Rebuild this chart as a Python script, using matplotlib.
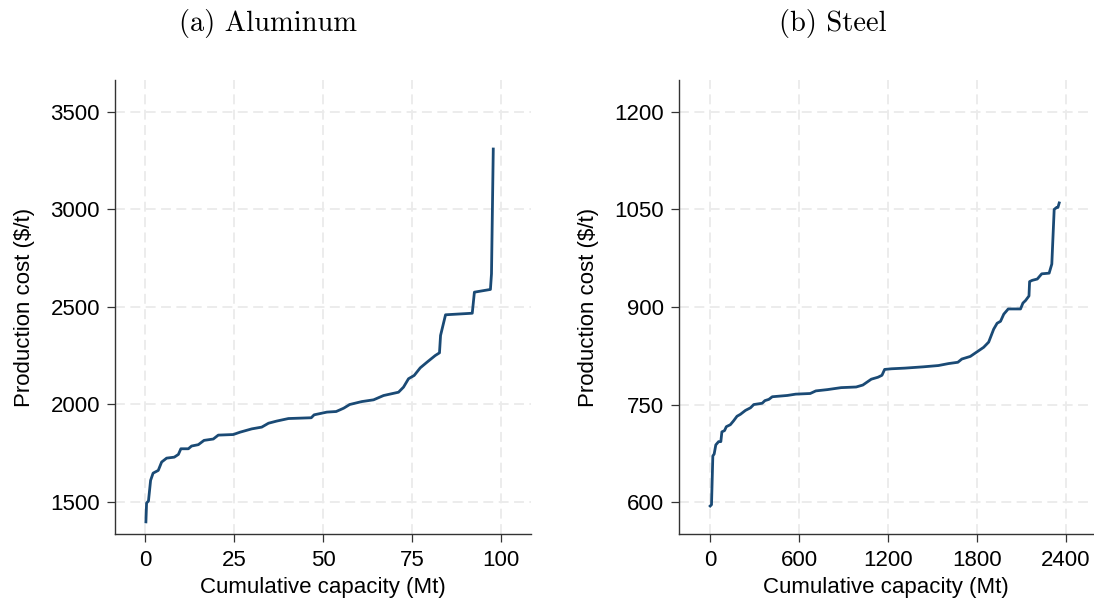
import matplotlib
matplotlib.use("Agg")
import matplotlib.pyplot as plt


# aluminum supply curve
alu_capacity = [0.28, 0.47, 1.0, 1.6, 2.3, 3.75, 4.7, 6.1, 8.25, 9.4, 10.1, 12.2, 13.1,
                15.0, 16.6, 19.2, 20.6, 24.8, 26.7, 30.0, 32.8, 34.7, 37.0, 40.3, 46.7,
                47.5, 51.1, 53.7, 55.8, 57.5, 60.9, 64.2, 67.0, 71.2, 72.6, 74.0, 75.6,
                77.3, 79.2, 81.5, 82.7, 83.0, 84.4, 91.9, 92.5, 97.0, 97.3, 97.8]
alu_cost = [1398, 1495, 1505, 1611, 1648, 1662, 1705, 1725, 1730, 1744, 1773, 1773, 1787,
            1794, 1816, 1823, 1843, 1846, 1858, 1875, 1884, 1904, 1915, 1928, 1932,
            1947, 1961, 1964, 1981, 2000, 2015, 2024, 2046, 2063, 2089, 2132, 2149,
            2188, 2217, 2251, 2265, 2354, 2460, 2468, 2576, 2590, 2670, 3310]

# steel supply curve
steel_capacity = [0, 9, 18, 27, 38, 57, 72, 79, 97, 109, 136, 158, 181, 204, 238, 272,
                  294, 351, 369, 396, 419, 521, 577, 675, 713, 792, 883, 985, 1030, 1087,
                  1132, 1159, 1177, 1223, 1313, 1438, 1540, 1608, 1671, 1698, 1755, 1800,
                  1845, 1879, 1913, 1936, 1959, 1981, 2011, 2094, 2110, 2128, 2151, 2155,
                  2173, 2207, 2237, 2287, 2305, 2321, 2337, 2346, 2355]
steel_cost = [594, 596, 671, 674, 688, 693, 693, 708, 710, 716, 719, 725, 732, 735, 741,
              745, 750, 752, 756, 758, 762, 764, 766, 767, 771, 773, 776, 777, 780, 789,
              792, 795, 804, 805, 806, 808, 810, 813, 815, 820, 824, 831, 838, 846, 866,
              875, 878, 889, 897, 897, 906, 910, 917, 939, 941, 943, 951, 952, 966, 1050,
              1053, 1053, 1060]

alu_xticks = [0, 25, 50, 75, 100]
alu_yticks = [1500, 2000, 2500, 3000, 3500]
steel_xticks = [0, 600, 1200, 1800, 2400]
steel_yticks = [600, 750, 900, 1050, 1200]

LINE_COLOR = "#1a4a75"
GRID_COLOR = "#ebebeb"
FONT_SIZE = 16

plt.rcParams["font.family"] = ["Liberation Sans", "DejaVu Sans"]


def style_axes(ax, xticks, yticks, xlim, ylim):
    ax.set_xticks(xticks)
    ax.set_yticks(yticks)
    ax.set_xlim(*xlim)
    ax.set_ylim(*ylim)
    ax.grid(True, color=GRID_COLOR, linestyle=(0, (5.5, 3)), linewidth=1.3)
    ax.set_axisbelow(True)
    for side in ["top", "right"]:
        ax.spines[side].set_visible(False)
    for side in ["left", "bottom"]:
        ax.spines[side].set_color("#333333")
        ax.spines[side].set_linewidth(1.0)
    ax.tick_params(axis="both", length=5.8, width=0.9, color="#333333",
                   labelsize=FONT_SIZE)
    ax.tick_params(axis="y", pad=5)
    ax.tick_params(axis="x", pad=6)
    ax.set_xlabel("Cumulative capacity (Mt)", fontsize=FONT_SIZE, labelpad=4)
    ax.set_ylabel("Production cost ($/t)", fontsize=FONT_SIZE, labelpad=11)


fig = plt.figure(figsize=(10.94, 6.01), dpi=100)

ax1 = fig.add_axes([0.1051, 0.1115, 0.3803, 0.7554])
ax1.plot(alu_capacity, alu_cost, color=LINE_COLOR, linewidth=2.0)
style_axes(ax1, alu_xticks, alu_yticks, (-8.4, 108.4), (1336, 3664))

ax2 = fig.add_axes([0.6207, 0.1115, 0.3784, 0.7554])
ax2.plot(steel_capacity, steel_cost, color=LINE_COLOR, linewidth=2.0)
style_axes(ax2, steel_xticks, steel_yticks, (-210, 2583), (551, 1249))

fig.text(268 / 1094, 1 - 24 / 601, "(a) Aluminum", family="cmr10", fontsize=20.5,
         ha="center", va="center")
fig.text(833 / 1094, 1 - 24 / 601, "(b) Steel", family="cmr10", fontsize=20.5,
         ha="center", va="center")

fig.savefig("out.png", dpi=100)
